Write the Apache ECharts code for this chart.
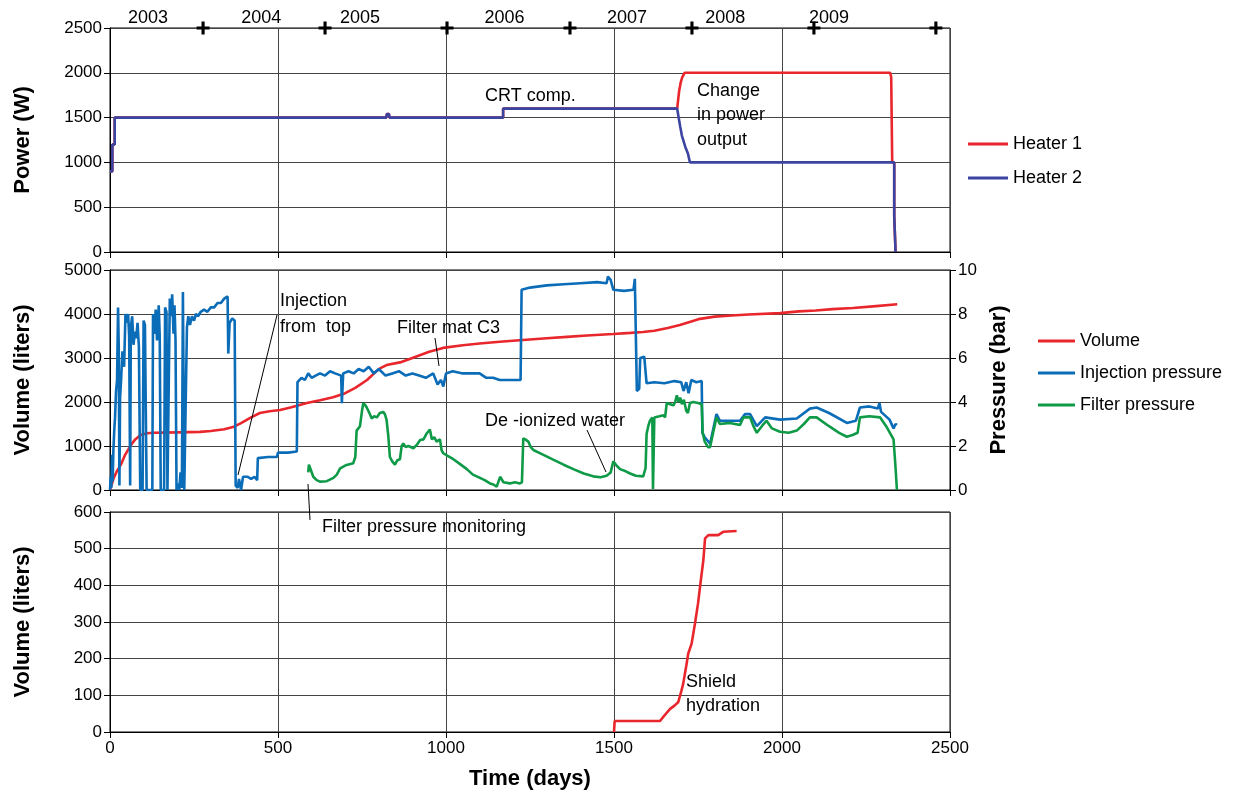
<!DOCTYPE html>
<html><head><meta charset="utf-8">
<script src="https://cdn.jsdelivr.net/npm/echarts@6/dist/echarts.min.js"></script>
<style>html,body{margin:0;padding:0;background:#fff}#c{width:1243px;height:798px}</style>
</head><body><div id="c"></div>
<script>
// ---- data ----
const yearLabels = ['2003','2004','2005','2006','2007','2008','2009'];
const yearLabelDays = [113, 450, 744, 1174, 1539, 1831, 2140];
const yearMarkDays = [277, 640, 1003, 1369, 1732, 2095, 2458];

const heater1 = [[0,900],[7,900],[7,1200],[14,1200],[14,1500],[822,1500],[824,1540],[830,1540],[832,1500],[1170,1500],[1170,1600],[1688,1600],[1691,1700],[1694,1800],[1699,1900],[1703,1950],[1710,2000],[2322,2000],[2325,1950],[2328,1000],[2334,1000],[2334,400],[2338,400],[2338,0]];
const heater2 = [[0,900],[7,900],[7,1200],[14,1200],[14,1500],[822,1500],[824,1540],[830,1540],[832,1500],[1170,1500],[1170,1600],[1688,1600],[1692,1510],[1697,1400],[1702,1300],[1712,1175],[1720,1100],[1726,1000],[2334,1000],[2334,400],[2338,400],[2338,0]];

const volume = [[0,0],[10,250],[20,420],[32,570],[45,800],[62,1020],[75,1150],[91,1250],[110,1290],[130,1300],[200,1310],[268,1320],[300,1340],[340,1380],[366,1430],[390,1520],[420,1650],[446,1750],[475,1790],[506,1820],[540,1880],[586,1975],[625,2040],[664,2110],[700,2200],[730,2320],[765,2500],[790,2680],[805,2770],[823,2840],[863,2900],[900,3000],[950,3140],[991,3230],[1050,3290],[1100,3330],[1160,3370],[1229,3410],[1300,3450],[1360,3480],[1420,3510],[1497,3545],[1550,3570],[1586,3590],[1620,3620],[1660,3680],[1696,3750],[1730,3830],[1756,3890],[1800,3940],[1850,3965],[1900,3990],[1994,4020],[2050,4060],[2100,4080],[2150,4110],[2211,4136],[2280,4180],[2343,4220]];

const injection = [[0,0],[2,0.6],[4,0.1],[6,1.6],[8,0.4],[10,1.8],[13,2.8],[15,3.3],[18,4.5],[21,5.0],[24,8.3],[26,6.5],[28,0.2],[30,4.2],[33,5.0],[37,6.3],[42,5.6],[46,8.0],[50,7.6],[54,8.0],[57,7.0],[60,0.2],[62,7.4],[66,7.9],[70,6.6],[74,7.2],[78,6.9],[82,7.6],[86,6.5],[90,0],[97,0],[100,7.7],[104,7.5],[109,0],[126,0],[128,8.0],[132,7.1],[136,8.2],[140,6.8],[145,8.4],[148,7.0],[151,0],[161,0],[164,8.3],[168,8.1],[171,0],[175,0],[178,8.7],[182,7.9],[185,8.9],[189,7.1],[192,8.4],[195,6.8],[198,0],[202,0.3],[206,0],[210,0.8],[214,0.1],[217,9.0],[221,0],[226,0],[229,7.4],[233,7.9],[238,7.5],[244,7.9],[250,7.7],[256,8.0],[262,7.9],[270,8.1],[280,8.2],[290,8.1],[300,8.3],[310,8.3],[320,8.5],[330,8.5],[340,8.7],[350,8.8],[352,6.2],[356,7.6],[364,7.8],[371,7.7],[374,0.2],[380,0.1],[384,0.5],[390,0],[396,0.6],[410,0.6],[420,0.5],[430,0.6],[438,0.45],[440,1.45],[470,1.5],[497,1.5],[500,1.7],[530,1.7],[556,1.75],[558,4.9],[570,5.1],[580,5.0],[590,5.3],[600,5.1],[612,5.2],[625,5.3],[640,5.2],[655,5.4],[670,5.3],[688,5.2],[690,3.95],[694,5.3],[710,5.4],[725,5.3],[740,5.5],[755,5.4],[770,5.6],[785,5.3],[800,5.5],[820,5.2],[840,5.3],[860,5.4],[880,5.2],[900,5.3],[920,5.2],[940,5.1],[962,5.3],[975,4.8],[985,5.0],[992,4.7],[1000,5.3],[1020,5.4],[1050,5.3],[1080,5.3],[1100,5.3],[1120,5.1],[1140,5.1],[1160,5.0],[1180,5.0],[1200,5.0],[1222,5.0],[1225,9.1],[1250,9.2],[1300,9.3],[1350,9.35],[1400,9.4],[1450,9.45],[1478,9.4],[1482,9.7],[1490,9.55],[1498,9.1],[1530,9.05],[1558,9.1],[1562,9.6],[1566,9.55],[1568,4.5],[1575,4.6],[1578,6.0],[1590,6.06],[1597,4.85],[1620,4.9],[1650,4.85],[1680,4.95],[1700,4.9],[1707,4.5],[1715,4.9],[1722,4.4],[1730,5.0],[1745,4.9],[1761,4.95],[1763,2.6],[1770,2.4],[1786,2.1],[1805,3.45],[1815,3.15],[1875,3.15],[1890,3.45],[1905,3.45],[1925,2.9],[1950,3.3],[1994,3.2],[2044,3.25],[2083,3.7],[2103,3.75],[2140,3.5],[2193,3.05],[2220,3.15],[2232,3.75],[2260,3.8],[2285,3.7],[2290,3.95],[2295,3.55],[2320,3.2],[2332,2.8],[2338,3.0],[2342,2.95]];

const filterP = [[590,0.8],[592,1.15],[598,0.9],[605,0.6],[615,0.45],[625,0.38],[645,0.4],[665,0.55],[675,0.7],[685,0.98],[704,1.14],[724,1.22],[730,1.5],[734,2.7],[744,2.9],[750,3.6],[754,3.95],[760,3.85],[764,3.75],[772,3.5],[779,3.25],[786,3.35],[794,3.3],[803,3.5],[813,3.55],[818,3.45],[823,3.2],[828,2.5],[833,1.5],[840,1.3],[848,1.15],[855,1.35],[863,1.4],[868,2.0],[873,2.12],[880,1.95],[888,2.0],[903,1.9],[913,2.05],[923,2.27],[933,2.3],[943,2.58],[952,2.75],[958,2.3],[965,2.4],[972,2.2],[982,2.3],[987,1.8],[992,1.67],[1005,1.55],[1022,1.4],[1040,1.2],[1062,0.95],[1080,0.7],[1101,0.55],[1115,0.45],[1131,0.3],[1141,0.25],[1151,0.15],[1156,0.2],[1161,0.6],[1166,0.55],[1171,0.35],[1190,0.3],[1205,0.35],[1220,0.3],[1226,0.35],[1230,2.35],[1236,2.3],[1245,2.2],[1252,1.95],[1260,1.82],[1290,1.6],[1319,1.38],[1350,1.15],[1379,0.95],[1410,0.75],[1438,0.62],[1460,0.58],[1478,0.65],[1490,0.8],[1498,1.3],[1508,1.1],[1518,0.95],[1535,0.85],[1548,0.75],[1565,0.65],[1587,0.62],[1594,1.0],[1597,2.55],[1602,2.9],[1607,3.15],[1614,3.3],[1616,0.05],[1618,0.05],[1620,3.3],[1635,3.35],[1647,3.4],[1652,3.3],[1657,3.95],[1667,3.9],[1677,3.85],[1682,4.0],[1687,4.3],[1692,4.0],[1697,4.2],[1702,3.9],[1708,4.1],[1715,3.6],[1720,3.5],[1726,3.95],[1736,4.0],[1750,3.95],[1761,3.9],[1764,2.6],[1770,2.2],[1780,1.95],[1786,1.95],[1795,2.6],[1805,3.3],[1815,3.0],[1845,3.05],[1875,2.95],[1885,3.3],[1905,3.3],[1915,2.9],[1925,2.6],[1940,2.9],[1954,3.15],[1970,2.8],[1994,2.65],[2020,2.6],[2044,2.7],[2065,3.0],[2083,3.3],[2103,3.3],[2140,2.9],[2170,2.6],[2193,2.42],[2210,2.5],[2225,2.6],[2232,3.3],[2260,3.35],[2292,3.3],[2310,2.9],[2332,2.3],[2338,1.0],[2342,0]];

const shieldVolume = [[1500,0],[1502,30],[1637,30],[1650,45],[1667,63],[1680,72],[1691,81],[1700,110],[1706,132],[1715,180],[1721,214],[1731,241],[1741,296],[1750,350],[1756,396],[1766,469],[1771,528],[1781,537],[1810,537],[1825,546],[1865,548]];

// ---- chart ----
const FONT = '"Liberation Sans", Arial, sans-serif';
const RED = '#e8262b', NAVY = '#3b44a0', BLUE = '#0b6cb8', GREEN = '#0f9a47';
const plain = v => String(v);
const grid = (top) => ({left:110, width:840, top:top, height: top===28?224:220, show:true, borderColor:'#000', borderWidth:1, backgroundColor:'transparent'});
const xAx = (i, showLabel) => ({
  type:'value', gridIndex:i, min:0, max:2500, interval:500,
  axisLine:{show:true, lineStyle:{color:'#000', width:1}},
  axisTick:{show:true, inside:false, length:6, lineStyle:{color:'#000'}},
  axisLabel:{show:showLabel, color:'#000', fontSize:17, fontFamily:FONT, margin:8, formatter:plain},
  splitLine:{show:true, lineStyle:{color:'#444', width:1}},
  name: showLabel ? 'Time (days)' : '', nameLocation:'middle', nameGap:36,
  nameTextStyle:{color:'#000', fontSize:22, fontWeight:'bold', fontFamily:FONT}
});
const yAx = (i, max, interval, name, pos, gap, split) => ({
  type:'value', gridIndex:i, min:0, max:max, interval:interval, position:pos,
  axisLine:{show:true, onZero:false, lineStyle:{color:'#000', width:1}},
  axisTick:{show:true, inside:false, length:6, lineStyle:{color:'#000'}},
  axisLabel:{color:'#000', fontSize:17, fontFamily:FONT, margin:8, formatter:plain},
  splitLine:{show:split, lineStyle:{color:'#444', width:1}},
  name:name, nameLocation:'middle', nameGap:gap,
  nameTextStyle:{color:'#000', fontSize:22, fontWeight:'bold', fontFamily:FONT}
});
const lineS = (name, data, color, xi, yi, z) => ({
  name:name, type:'line', data:data, xAxisIndex:xi, yAxisIndex:yi,
  showSymbol:false, symbol:'none', lineStyle:{color:color, width:2.6}, itemStyle:{color:color}, z:z||2, animation:false
});
const txt = (t, x, y) => ({type:'text', z:100, style:{text:t, x:x, y:y, fill:'#000', font:'18px '+FONT, verticalAlign:'middle'}});
const ln = (x1,y1,x2,y2) => ({type:'line', z:100, shape:{x1,y1,x2,y2}, style:{stroke:'#000', lineWidth:1}});
const yearLabelStyle = {show:true, position:'top', distance:0, color:'#000', opacity:1, fontSize:18, fontFamily:FONT};

const chart = echarts.init(document.getElementById('c'), null, {renderer:'canvas'});
chart.setOption({
  animation:false,
  backgroundColor:'#fff',
  textStyle:{fontFamily:FONT},
  grid:[grid(28), grid(270), grid(512)],
  xAxis:[xAx(0,false), xAx(1,false), xAx(2,true)],
  yAxis:[
    yAx(0, 2500, 500, 'Power (W)', 'left', 76, true),
    yAx(1, 5000, 1000, 'Volume (liters)', 'left', 76, true),
    yAx(1, 10, 2, 'Pressure (bar)', 'right', 38, false),
    yAx(2, 600, 100, 'Volume (liters)', 'left', 76, true)
  ],
  legend:[
    {data:['Heater 1','Heater 2'], orient:'vertical', left:968, top:135, padding:0, itemWidth:40, itemHeight:3, itemGap:16, icon:'rect',
     textStyle:{color:'#000', fontSize:18, fontFamily:FONT}},
    {data:['Volume','Injection pressure','Filter pressure'], orient:'vertical', left:1038, top:332, padding:0, itemWidth:37, itemHeight:3, itemGap:14, icon:'rect',
     textStyle:{color:'#000', fontSize:18, fontFamily:FONT}}
  ],
  series:[
    lineS('Heater 1', heater1, RED, 0, 0, 2),
    lineS('Heater 2', heater2, NAVY, 0, 0, 3),
    lineS('Volume', volume, RED, 1, 1, 2),
    lineS('Injection pressure', injection, BLUE, 1, 2, 3),
    lineS('Filter pressure', filterP, GREEN, 1, 2, 4),
    lineS('Shield volume', shieldVolume, RED, 2, 3, 2),
    {name:'years', type:'scatter', xAxisIndex:0, yAxisIndex:0, clip:false, z:10, silent:true,
     data: yearLabelDays.map((d,i)=>({value:[d,2500], label:Object.assign({}, yearLabelStyle, {formatter:yearLabels[i]})})),
     symbolSize:1, itemStyle:{color:'rgba(0,0,0,0)', opacity:1},
     label:yearLabelStyle},
    {name:'yearMarks', type:'scatter', xAxisIndex:0, yAxisIndex:0, clip:false, z:10, silent:true,
     data: yearMarkDays.map(d=>[d,2500]),
     symbol:'path://M3.8,0H6.2V3.8H10V6.2H6.2V10H3.8V6.2H0V3.8H3.8Z', symbolSize:13, itemStyle:{color:'#000', opacity:1}}
  ],
  graphic:[
    txt('CRT comp.', 485, 96),
    txt('Change', 697, 91), txt('in power', 697, 115), txt('output', 697, 140),
    txt('Injection', 280, 301), txt('from  top', 280, 327),
    ln(277, 315, 238, 475),
    txt('Filter mat C3', 397, 328),
    ln(435, 338, 439, 366),
    txt('De -ionized water', 485, 421),
    ln(587, 430, 606, 472),
    txt('Filter pressure monitoring', 322, 527),
    ln(308, 484, 310, 520),
    txt('Shield', 686, 682), txt('hydration', 686, 706)
  ]
});
</script></body></html>
